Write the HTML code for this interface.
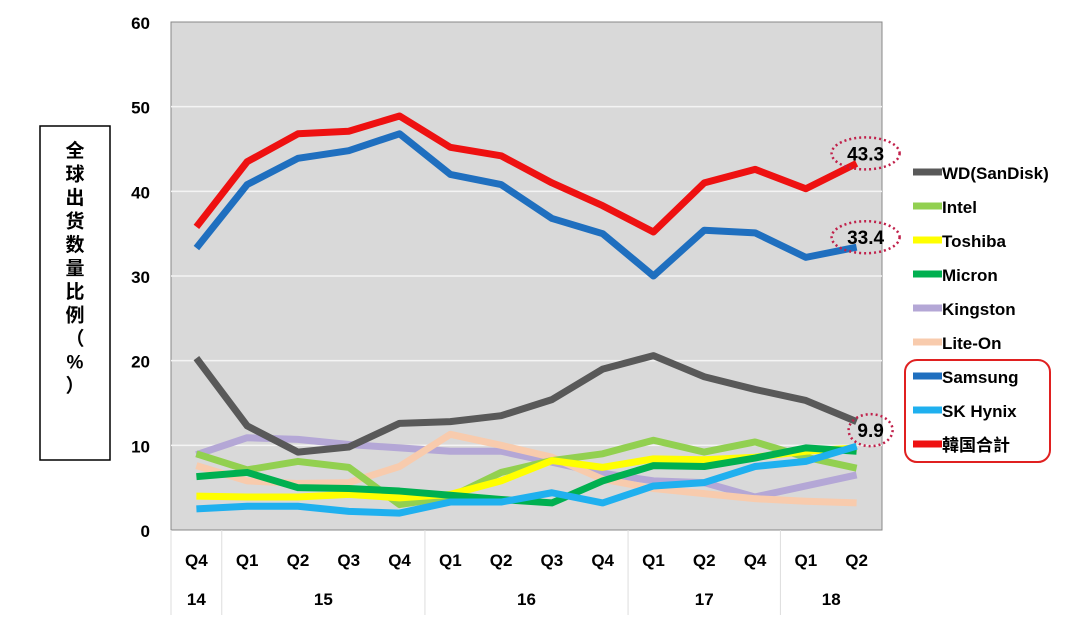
<!DOCTYPE html>
<html><head><meta charset="utf-8"><style>
body{margin:0;background:#fff;width:1080px;height:622px;overflow:hidden;font-family:"Liberation Sans","Noto Sans CJK SC",sans-serif}
text{font-family:"Liberation Sans","Noto Sans CJK SC",sans-serif;font-weight:bold}
</style></head><body>
<svg id="chart" width="1080" height="622" xmlns="http://www.w3.org/2000/svg">
<rect x="171" y="22" width="711" height="508" fill="#d9d9d9" stroke="#888" stroke-width="1"/>
<g id="grid"></g><g id="axes"></g><g id="lines"></g><g id="legend"></g>
<rect x="40" y="126" width="70" height="334" fill="#fff" stroke="#000" stroke-width="1.5"/>
<g id="ytitle"></g>
<rect x="905" y="360" width="145" height="102" rx="12" fill="none" stroke="#e02020" stroke-width="2"/>
</svg>
<script>
const categories=["Q4","Q1","Q2","Q3","Q4","Q1","Q2","Q3","Q4","Q1","Q2","Q4","Q1","Q2"];
const years=[{t:"14",s:0,e:1},{t:"15",s:1,e:5},{t:"16",s:5,e:9},{t:"17",s:9,e:12},{t:"18",s:12,e:14}];
const yTicks=[0,10,20,30,40,50,60];
const seriesNames=["WD(SanDisk)","Intel","Toshiba","Micron","Kingston","Lite-On","Samsung","SK Hynix","韓国合計"];
const wd=[20.3,12.3,9.2,9.8,12.6,12.8,13.5,15.4,19.0,20.6,18.1,16.6,15.3,12.8];
const intel=[9.0,7.1,8.1,7.4,3.0,3.9,6.8,8.2,9.0,10.6,9.2,10.4,8.6,7.3];
const toshiba=[4.0,3.9,3.9,4.2,3.8,4.2,5.8,8.2,7.4,8.4,8.3,8.6,9.3,9.7];
const micron=[6.3,6.8,5.0,4.9,4.6,4.1,3.6,3.2,5.8,7.6,7.5,8.5,9.7,9.3];
const kingston=[8.9,10.9,10.7,10.1,9.7,9.3,9.3,8.0,6.7,5.8,5.6,3.9,5.2,6.5];
const liteon=[7.6,5.8,5.5,5.6,7.5,11.3,10.0,8.6,6.0,4.9,4.3,3.7,3.4,3.2];
const samsung=[33.3,40.8,43.9,44.8,46.8,42.0,40.8,36.8,35.0,30.0,35.4,35.1,32.2,33.4];
const skhynix=[2.5,2.8,2.8,2.2,2.0,3.3,3.3,4.4,3.2,5.2,5.6,7.5,8.1,9.9];
const korea=[35.8,43.5,46.8,47.1,48.9,45.2,44.2,41.0,38.3,35.2,41.0,42.6,40.3,43.3];
const labels=["43.3","33.4","9.9"];
const NS="http://www.w3.org/2000/svg";
const L=171,R=882,T=22,B=530,n=categories.length,bw=(R-L)/n;
const x=i=>L+bw*(i+0.5), y=v=>B-(v/60)*(B-T);
function mk(tag,attrs,parent,txt){const e=document.createElementNS(NS,tag);for(const k in attrs)e.setAttribute(k,attrs[k]);if(txt!==undefined)e.textContent=txt;document.getElementById(parent).appendChild(e);return e;}
const titleChars=["全","球","出","货","数","量","比","例","（","%","）"];
titleChars.forEach((c,i)=>{
 const t=mk("text",{x:75,y:157+i*23.5,"font-size":19,"text-anchor":"middle"},"ytitle",c);
 
 
});
yTicks.forEach(t=>{
 if(t>0&&t<60){const g=mk("line",{x1:L,x2:R,y1:y(t),y2:y(t),stroke:"#f4f4f4","stroke-width":1.5},"grid");
 
 }
 const tx=mk("text",{x:150,y:y(t)+7,"font-size":17,"text-anchor":"end"},"axes",t);
 
 
});
categories.forEach((c,i)=>{
 const tx=mk("text",{x:x(i),y:566,"font-size":17,"text-anchor":"middle"},"axes",c);
 
 
});
years.forEach((yr,k)=>{
 const tx=mk("text",{x:(x(yr.s)+x(yr.e-1))/2,y:605,"font-size":17,"text-anchor":"middle"},"axes",yr.t);
 
 
 const xs=L+bw*yr.s;
 const ln=mk("line",{x1:xs,x2:xs,y1:B,y2:615,stroke:"#ddd","stroke-width":1},"axes");
 
 
});
const colors=["#595959","#92d050","#ffff00","#00b050","#b4a7d6","#f8cbad","#1f6fbf","#1fb0ef","#ee1111"];
const data=[wd,intel,toshiba,micron,kingston,liteon,samsung,skhynix,korea];
const order=[4,5,1,2,3,7,0,6,8];
order.forEach(s=>{
 const p=mk("polyline",{points:data[s].map((v,i)=>x(i)+","+y(v)).join(" "),fill:"none",stroke:colors[s],"stroke-width":7,"stroke-linejoin":"round"},"lines");
 
 
});
[[korea,0],[samsung,1],[skhynix,2]].forEach(([arr,k])=>{
 const v=arr[n-1],cx=x(n-1)+9+(k==2?5:0),cy=y(v)-(k==2?16:10);
 const e=mk("ellipse",{cx:cx,cy:cy,rx:k==2?22:34,ry:16,fill:"none",stroke:"#c0204a","stroke-width":2.5,"stroke-dasharray":"2 3"},"lines");
 
 
 const t=mk("text",{x:cx,y:cy+7,"font-size":19,"text-anchor":"middle"},"lines",labels[k]);
 
 
});
seriesNames.forEach((s,i)=>{
 const ly=172+i*34;
 const l=mk("line",{x1:913,x2:942,y1:ly,y2:ly,stroke:colors[i],"stroke-width":7},"legend");
 
 
 const t=mk("text",{x:942,y:ly+7,"font-size":17},"legend",s);
 
 
});
</script>
</body></html>
